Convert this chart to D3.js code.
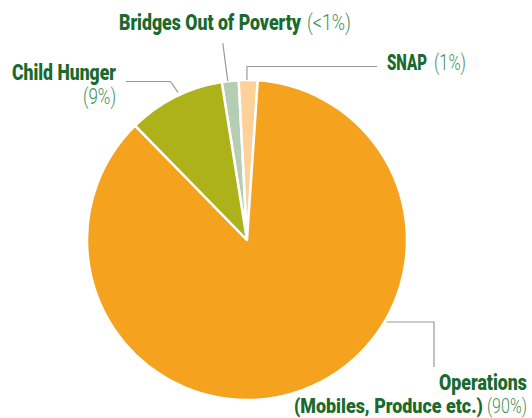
<!DOCTYPE html>
<html><head><meta charset="utf-8">
<script src="https://cdn.jsdelivr.net/npm/d3@7"></script>
<style>
html,body{margin:0;padding:0;background:#fff;}
svg{display:block;}
.name{font-family:Roboto,"DejaVu Sans Condensed",sans-serif;font-weight:900;fill:#1a6a2e;}
.pct{font-family:Roboto,"DejaVu Sans Condensed",sans-serif;font-weight:300;fill:#3f8f5e;}
</style></head>
<body>
<script>
// Data (clockwise order from the top-left slice)
const categories = ["Bridges Out of Poverty", "SNAP", "Operations", "Child Hunger"];
const shares = [1.7, 1.9, 86.6, 9.8];          // slice sizes
const pctLabels = ["(<1%)", "(1%)", "(90%)", "(9%)"];
const colors = ["#b4cdb3", "#fdd29a", "#f5a21f", "#adb21b"];

const W = 532, H = 418;
const cx = 247, cy = 240, R = 160;
const startDeg = -9.1;

const svg = d3.select("body").append("svg").attr("width", W).attr("height", H);
const g = svg.append("g").attr("transform", `translate(${cx},${cy})`);

const pie = d3.pie().sort(null).value(d => d)
  .startAngle(startDeg * Math.PI / 180)
  .endAngle((startDeg + 360) * Math.PI / 180);
const arcs = pie(shares);
const arc = d3.arc().innerRadius(0).outerRadius(R);

g.selectAll("path.slice").data(arcs).enter().append("path")
  .attr("class", "slice")
  .attr("d", arc)
  .attr("fill", (d, i) => colors[i])
  .attr("stroke", "#fff")
  .attr("stroke-width", 2.5)
  .attr("stroke-linejoin", "round");

// leader line helpers
function onArc(a, r) { return [cx + r * Math.sin(a), cy - r * Math.cos(a)]; }
const leader = svg.append("g").attr("fill", "none").attr("stroke", "#9a9a9a").attr("stroke-width", 1.2);
function mid(d) { return (d.startAngle + d.endAngle) / 2; }

// Bridges
{ const p = onArc(mid(arcs[0]) - 0.015, R);
  leader.append("path").attr("d", `M${p[0]},${p[1]}L${p[0]-5},${p[1]-38}`); }
// SNAP
{ const p = onArc(mid(arcs[1]) - 0.008, R);
  leader.append("path").attr("d", `M${p[0]},${p[1]}L${p[0]},66.5L377,66.5`); }
// Child Hunger
{ const p = onArc(mid(arcs[3]) + 0.03, R + 3);
  leader.append("path").attr("d", `M${p[0]},${p[1]}L170.5,81.5L126,81.5`); }
// Operations
{ const p = onArc(120.4 * Math.PI / 180, R + 2);
  leader.append("path").attr("d", `M${p[0]},${p[1]}L434,${p[1]}L434,367`); }

const fs = 22;
// condensed look: draw text at natural width, then squeeze horizontally to the target width
function label(cls, txt, x, y, w, size) {
  const t = svg.append("g").append("text").attr("class", cls)
    .attr("x", 0).attr("y", 0).attr("font-size", size || fs).text(txt);
  const nat = t.node().getComputedTextLength();
  const sx = w / nat;
  d3.select(t.node().parentNode).attr("transform", `translate(${x},${y}) scale(${sx},1)`);
}
label("name", categories[0], 119, 30, 182);
label("pct", pctLabels[0], 307, 30, 44);
label("name", categories[1], 387, 70, 40);
label("pct", pctLabels[1], 434, 70, 32);
label("name", categories[3], 12, 80, 104);
label("pct", pctLabels[3], 83, 104, 33);
label("name", categories[2], 439, 390, 88);
label("name", "(Mobiles, Produce etc.)", 294, 413, 189, 21);
label("pct", pctLabels[2], 487, 413, 40, 21);
</script>
</body></html>
